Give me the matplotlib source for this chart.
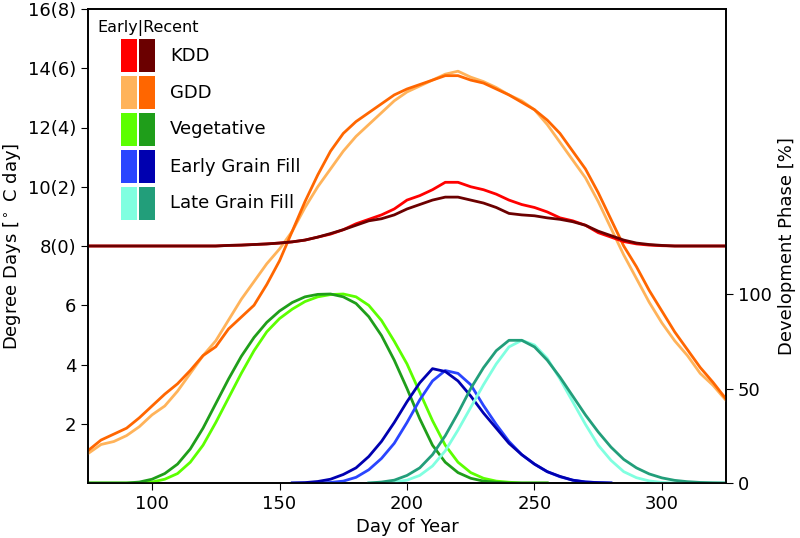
import numpy as np
import matplotlib
matplotlib.use("Agg")
import matplotlib.pyplot as plt
from matplotlib.patches import Rectangle

# ---------------- data ----------------
days = list(range(75, 330, 5))

gdd_early = [1.0, 1.3, 1.4, 1.6, 1.9, 2.3, 2.6, 3.1, 3.7, 4.3, 4.8, 5.5, 6.2, 6.8, 7.4,
             7.9, 8.5, 9.3, 10.0, 10.6, 11.2, 11.7, 12.1, 12.5, 12.9, 13.2, 13.4, 13.6,
             13.8, 13.9, 13.7, 13.55, 13.35, 13.1, 12.9, 12.6, 12.1, 11.5, 10.9, 10.3,
             9.5, 8.6, 7.7, 6.9, 6.1, 5.4, 4.8, 4.3, 3.7, 3.3, 2.8]
gdd_recent = [1.1, 1.45, 1.65, 1.85, 2.2, 2.6, 3.0, 3.35, 3.8, 4.3, 4.6, 5.2, 5.6, 6.0,
              6.7, 7.5, 8.5, 9.5, 10.4, 11.2, 11.8, 12.2, 12.5, 12.8, 13.1, 13.3, 13.45,
              13.6, 13.75, 13.75, 13.6, 13.5, 13.3, 13.1, 12.85, 12.6, 12.25, 11.8, 11.2,
              10.6, 9.8, 8.9, 8.0, 7.3, 6.5, 5.8, 5.1, 4.5, 3.9, 3.4, 2.85]

kdd_early = [0, 0, 0, 0, 0, 0, 0, 0, 0, 0, 0, 0.02, 0.03, 0.05, 0.07, 0.1, 0.14, 0.2,
             0.3, 0.4, 0.55, 0.75, 0.9, 1.05, 1.25, 1.55, 1.7, 1.9, 2.15, 2.15, 2.0, 1.9,
             1.75, 1.55, 1.4, 1.3, 1.15, 0.95, 0.85, 0.7, 0.45, 0.3, 0.15, 0.07, 0.03,
             0.01, 0, 0, 0, 0, 0]
kdd_recent = [0, 0, 0, 0, 0, 0, 0, 0, 0, 0, 0, 0.02, 0.03, 0.05, 0.07, 0.1, 0.14, 0.2,
              0.3, 0.42, 0.55, 0.7, 0.85, 0.92, 1.05, 1.25, 1.4, 1.55, 1.65, 1.65, 1.55,
              1.45, 1.3, 1.1, 1.05, 1.02, 0.95, 0.9, 0.82, 0.7, 0.5, 0.35, 0.2, 0.1, 0.05,
              0.02, 0, 0, 0, 0, 0]

veg_days = list(range(75, 260, 5))
veg_early = [0, 0, 0, 0, 0, 0.5, 2, 5, 11, 20, 32, 45, 58, 70, 80, 87, 92, 96, 98.5,
             99.7, 100, 98.5, 94, 86, 75, 63, 48, 33, 20, 11, 5.5, 2.5, 1, 0.4, 0, 0, 0]
veg_recent = [0, 0, 0, 0, 0.5, 2, 5, 10, 18, 29, 42, 55, 67, 77, 85, 91, 95.5, 98.5,
              99.8, 100, 98.5, 95, 88, 78, 65, 50, 34, 20, 11, 5.5, 2.5, 1, 0.4, 0, 0,
              0, 0]

egf_days = list(range(155, 285, 5))
egf_early = [0, 0, 0, 0.3, 1, 3, 7, 13, 21, 32, 44, 54, 59.5, 58, 52, 41, 31, 22, 15, 10,
             6, 3.3, 1.5, 0.6, 0.2, 0]
egf_recent = [0, 0.2, 0.8, 2, 4.5, 8, 14, 22, 32, 43, 53, 60.5, 59, 54, 46, 37, 29, 21,
              15, 10, 6, 3.5, 1.5, 0.5, 0.2, 0]

lgf_days = list(range(185, 330, 5))
lgf_early = [0, 0, 0.5, 1.5, 4, 9, 17, 28, 40, 52, 63, 72, 75.5, 73, 66, 55, 43, 31, 20,
             12, 6, 2.8, 1.1, 0.3, 0, 0, 0, 0, 0]
lgf_recent = [0, 0.5, 1.5, 4, 8, 15, 25, 37, 50, 61, 70, 75.5, 75.5, 72, 65, 56, 46, 36,
              27, 19, 12.5, 8, 4.8, 2.7, 1.4, 0.7, 0.3, 0.1, 0]

legend_labels = ["KDD", "GDD", "Vegetative", "Early Grain Fill", "Late Grain Fill"]
early_colors = ["#ff0000", "#ffb35a", "#5cff00", "#2a45ff", "#80ffe0"]
recent_colors = ["#6b0000", "#ff6600", "#1f9e1a", "#0000b0", "#229e7a"]

left_ticks = [2, 4, 6, 8, 10, 12, 14, 16]
left_ticklabels = ["2", "4", "6", "8(0)", "10(2)", "12(4)", "14(6)", "16(8)"]
right_ticks = [0, 50, 100]
kdd_offset = 8

# ---------------- figure ----------------
FS = 13
fig = plt.figure(figsize=(8, 5.38), dpi=100)
ax = fig.add_axes([88.3 / 800, 55 / 538, 637.4 / 800, 474 / 538])
ax2 = ax.twinx()

lw = 2.0
# GDD
ax.plot(days, gdd_early, color=early_colors[1], lw=lw, zorder=3)
ax.plot(days, gdd_recent, color=recent_colors[1], lw=lw, zorder=3)
# KDD (offset)
ax.plot(days, np.array(kdd_early) + kdd_offset, color=early_colors[0], lw=lw, zorder=4)
ax.plot(days, np.array(kdd_recent) + kdd_offset, color=recent_colors[0], lw=lw, zorder=4)

# phases on right axis
ax2.plot(veg_days, veg_early, color=early_colors[2], lw=lw)
ax2.plot(veg_days, veg_recent, color=recent_colors[2], lw=lw)
ax2.plot(egf_days, egf_early, color=early_colors[3], lw=lw)
ax2.plot(egf_days, egf_recent, color=recent_colors[3], lw=lw)
ax2.plot(lgf_days, lgf_early, color=early_colors[4], lw=lw)
ax2.plot(lgf_days, lgf_recent, color=recent_colors[4], lw=lw)

ax.set_xlim(75, 325)
ax.set_ylim(0, 16)
ax2.set_ylim(0, 100 * 474 / 189)
ax.set_yticks(left_ticks)
ax.set_yticklabels(left_ticklabels)
ax2.set_yticks(right_ticks)
ax.set_xticks([100, 150, 200, 250, 300])
ax.tick_params(labelsize=FS, length=5)
ax2.tick_params(labelsize=FS, length=5)

ax.set_xlabel("Day of Year", fontsize=FS)
ax.set_ylabel(r"Degree Days [$^\circ$ C day]", fontsize=FS, labelpad=4)
ax2.set_ylabel("Development Phase [%]", fontsize=FS, labelpad=5)

for a in (ax, ax2):
    for s in a.spines.values():
        s.set_linewidth(1.2)

# ---------------- custom legend ----------------
W, H = 800, 538
fig.text(97 / W, 1 - 28.5 / H, "Early|Recent", fontsize=11.5, va="center", ha="left")
row_tops = [39.3, 76, 112.7, 150, 186.7]
ph = 33
for i, lab in enumerate(legend_labels):
    y0 = 1 - (row_tops[i] + ph) / H
    fig.patches.append(Rectangle((121 / W, y0), 15.7 / W, ph / H, transform=fig.transFigure,
                                 facecolor=early_colors[i], edgecolor="none", zorder=10))
    fig.patches.append(Rectangle((139 / W, y0), 15.7 / W, ph / H, transform=fig.transFigure,
                                 facecolor=recent_colors[i], edgecolor="none", zorder=10))
    fig.text(170 / W, 1 - (row_tops[i] + ph / 2) / H, lab, fontsize=FS, va="center", ha="left")

fig.savefig("out.png", dpi=100)
